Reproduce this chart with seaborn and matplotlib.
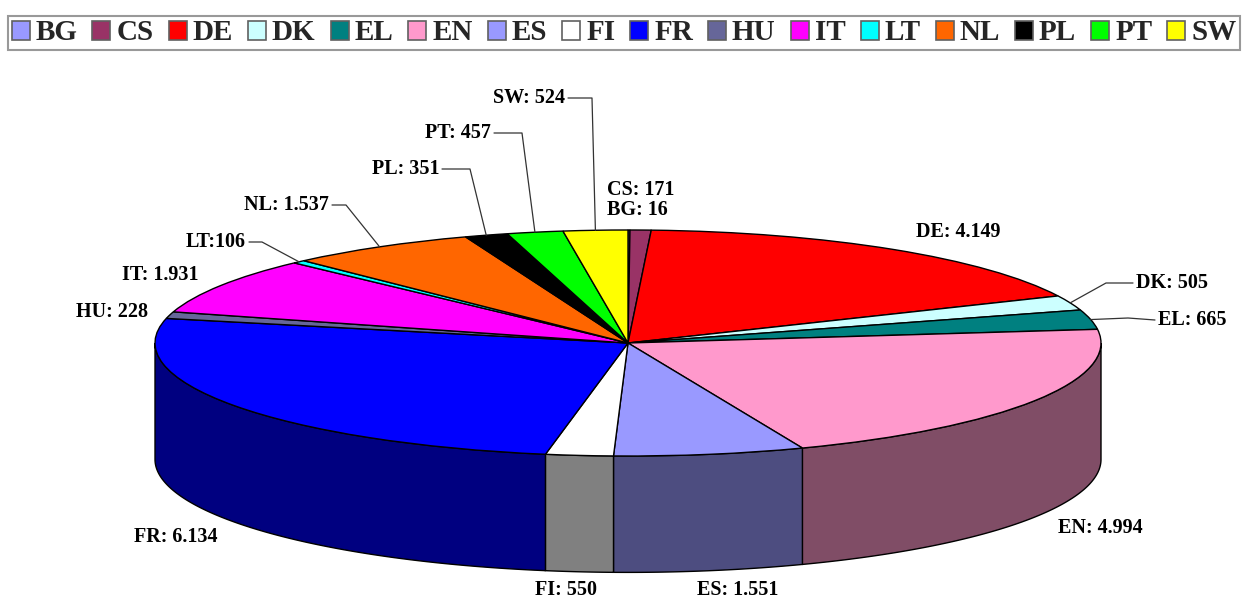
import numpy as np
import matplotlib
matplotlib.use("Agg")
import matplotlib.pyplot as plt
import seaborn as sns
from matplotlib.patches import Patch, Polygon
from matplotlib import colors as mcolors

# ---- data ----
codes = ["BG", "CS", "DE", "DK", "EL", "EN", "ES", "FI", "FR", "HU", "IT", "LT", "NL", "PL", "PT", "SW"]
values = [16, 171, 4149, 505, 665, 4994, 1551, 550, 6134, 228, 1931, 106, 1537, 351, 457, 524]
value_labels = ["16", "171", "4.149", "505", "665", "4.994", "1.551", "550", "6.134", "228",
                "1.931", "106", "1.537", "351", "457", "524"]
palette = ["#9999FF", "#993366", "#FF0000", "#CCFFFF", "#008080", "#FF99CC", "#9999FF", "#FFFFFF",
           "#0000FF", "#666699", "#FF00FF", "#00FFFF", "#FF6600", "#000000", "#00FF00", "#FFFF00"]

sns.set_theme(style="white")
plt.rcParams['font.family'] = ['Liberation Serif', 'DejaVu Serif']

W, H = 1244, 601
fig = plt.figure(figsize=(W / 100, H / 100), dpi=100)
ax = fig.add_axes([0, 0, 1, 1])

# pie ellipse layout in pixels
CX, CY, RX, RY = 628, 343, 473, 113
DEPTH = 1.03  # side height, in units of RY

wedges, _ = ax.pie(values, colors=palette, startangle=90, counterclock=False,
                   wedgeprops=dict(edgecolor="black", linewidth=1.0), radius=1.0)
ax.set_aspect("auto")
ax.set_xlim(-CX / RX, (W - CX) / RX)
ax.set_ylim(-(H - CY) / RY, CY / RY)
ax.axis("off")


def dark(c):
    r, g, b = mcolors.to_rgb(c)
    return (r * 0.5, g * 0.5, b * 0.5)


# side walls (front half of the cylinder)
fracs = np.asarray(values, float) / np.sum(values)
cum = np.concatenate([[0.0], np.cumsum(fracs)])
for i in range(len(values)):
    a = 90 - 360 * cum[i + 1]
    b = 90 - 360 * cum[i]
    lo, hi = max(a, -180.0), min(b, 0.0)
    if hi <= lo:
        continue
    t = np.radians(np.linspace(lo, hi, 120))
    xs, ys = np.cos(t), np.sin(t)
    poly = np.column_stack([np.concatenate([xs, xs[::-1]]),
                            np.concatenate([ys, ys[::-1] - DEPTH])])
    ax.add_patch(Polygon(poly, closed=True, facecolor=dark(palette[i]),
                         edgecolor="black", linewidth=1.0, zorder=0.5))


def px2data(x, y):
    return (x - CX) / RX, (CY - y) / RY


# label layout: (x_px, y_px, ha, knee point for leader line or None)
layout = {
    "BG": (607, 210, "left", None),
    "CS": (607, 190, "left", None),
    "DE": (958, 232, "center", None),
    "DK": (1136, 283, "left", (1106, 283)),
    "EL": (1158, 320, "left", (1128, 318)),
    "EN": (1100, 528, "center", None),
    "ES": (738, 590, "center", None),
    "FI": (566, 590, "center", None),
    "FR": (176, 537, "center", None),
    "HU": (112, 312, "center", None),
    "IT": (160, 275, "center", None),
    "LT": (246, 242, "right", (262, 242)),
    "NL": (329, 205, "right", (346, 205)),
    "PL": (439, 169, "right", (470, 169)),
    "PT": (491, 133, "right", (522, 133)),
    "SW": (565, 98, "right", (592, 98)),
}

for i, code in enumerate(codes):
    x, y, ha, knee = layout[code]
    sep = ":" if code == "LT" else ": "
    fig.text(x / W, 1 - y / H, f"{code}{sep}{value_labels[i]}", ha=ha, va="center",
             fontsize=14.5, fontweight="bold", color="black")
    if knee is not None:
        mid = np.radians(90 - 360 * (cum[i] + cum[i + 1]) / 2)
        ax_x, ax_y = np.cos(mid), np.sin(mid)
        tx = x + (3 if ha == "right" else -3)
        p0 = px2data(tx, y)
        p1 = px2data(*knee)
        ax.plot([p0[0], p1[0], ax_x], [p0[1], p1[1], ax_y], color="#333333", lw=0.9, zorder=3)

# legend
handles = [Patch(facecolor=c, edgecolor="#606060", linewidth=1.2) for c in palette]
leg = fig.legend(handles, codes, loc="lower left", mode="expand", ncol=len(codes),
                 bbox_to_anchor=(8 / W, 1 - 50 / H, 1232 / W, 38 / H), borderaxespad=0,
                 fancybox=False, frameon=True, edgecolor="#808080",
                 prop=dict(family="Liberation Serif", weight="bold", size=21),
                 handlelength=0.62, handleheight=0.62, handletextpad=0.2, columnspacing=0.3,
                 borderpad=0.12)
leg.get_frame().set_linewidth(1.5)

fig.savefig("out.png", dpi=100)
